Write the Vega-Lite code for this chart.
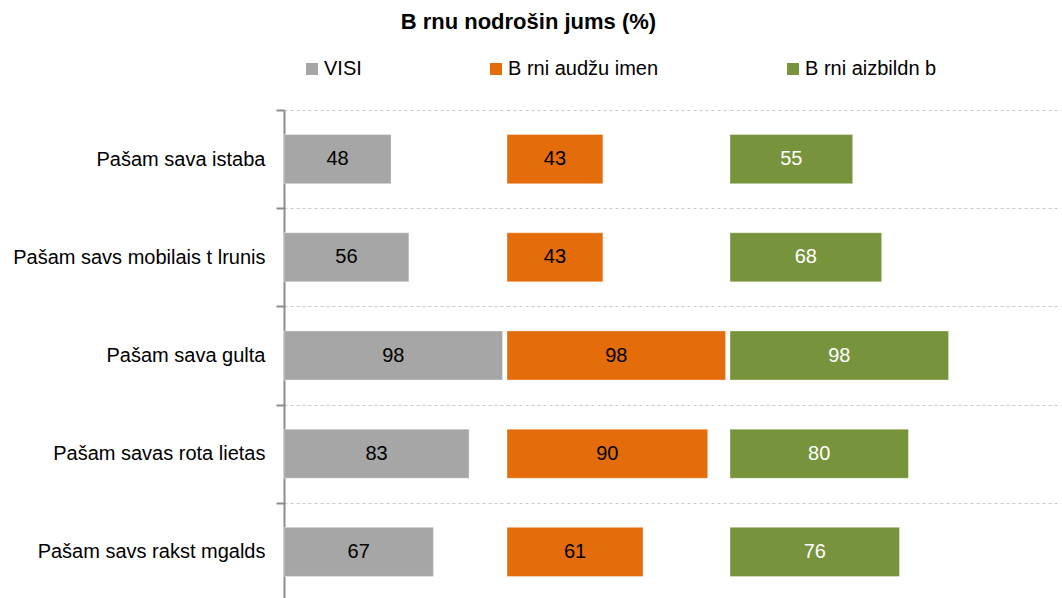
{
  "$schema": "https://vega.github.io/schema/vega-lite/v6.json",
  "background": "#ffffff",
  "padding": {"left": 12, "top": 11, "right": 0, "bottom": 0},
  "title": {"text": "B rnu nodrošin jums (%)", "fontSize": 22, "fontWeight": "bold", "font": "Liberation Sans", "color": "#000000", "anchor": "start", "dx": 388, "offset": 25},
  "data": {"values": [
    {"category": "Pašam sava istaba", "group": "VISI", "value": 48},
    {"category": "Pašam savs mobilais t lrunis", "group": "VISI", "value": 56},
    {"category": "Pašam sava gulta", "group": "VISI", "value": 98},
    {"category": "Pašam savas rota lietas", "group": "VISI", "value": 83},
    {"category": "Pašam savs rakst mgalds", "group": "VISI", "value": 67},
    {"category": "Pašam sava istaba", "group": "B rni audžu imen", "value": 43},
    {"category": "Pašam savs mobilais t lrunis", "group": "B rni audžu imen", "value": 43},
    {"category": "Pašam sava gulta", "group": "B rni audžu imen", "value": 98},
    {"category": "Pašam savas rota lietas", "group": "B rni audžu imen", "value": 90},
    {"category": "Pašam savs rakst mgalds", "group": "B rni audžu imen", "value": 61},
    {"category": "Pašam sava istaba", "group": "B rni aizbildn b", "value": 55},
    {"category": "Pašam savs mobilais t lrunis", "group": "B rni aizbildn b", "value": 68},
    {"category": "Pašam sava gulta", "group": "B rni aizbildn b", "value": 98},
    {"category": "Pašam savas rota lietas", "group": "B rni aizbildn b", "value": 80},
    {"category": "Pašam savs rakst mgalds", "group": "B rni aizbildn b", "value": 76}
  ]},
  "bounds": "flush",
  "spacing": 0,
  "hconcat": [
    {
      "width": 223, "height": 491,
      "transform": [{"filter": "datum.group === 'VISI'"}],
      "layer": [
        {
          "mark": {"type": "bar", "height": {"band": 0.5}, "stroke": "#ffffff", "strokeWidth": 1, "strokeOpacity": 0.35},
          "encoding": {
            "y": {"field": "category", "type": "nominal", "sort": ["Pašam sava istaba", "Pašam savs mobilais t lrunis", "Pašam sava gulta", "Pašam savas rota lietas", "Pašam savs rakst mgalds"], "scale": {"paddingInner": 0, "paddingOuter": 0},
              "axis": {"title": null, "labelFontSize": 20, "labelColor": "#000000", "labelFont": "Liberation Sans", "labelLimit": 400, "labelPadding": 11, "domainColor": "#8c8c8c", "domainWidth": 2, "tickColor": "#8c8c8c", "tickWidth": 2, "tickSize": 8, "tickBand": "extent", "grid": true, "gridColor": "#c8c8c8", "gridDash": [3, 3], "gridWidth": 1}},
            "x": {"field": "value", "type": "quantitative", "scale": {"domain": [0, 100], "nice": false}, "axis": null},
            "color": {"field": "group", "type": "nominal", "scale": {"domain": ["VISI", "B rni audžu imen", "B rni aizbildn b"], "range": ["#a6a6a6", "#e46c0a", "#77933c"]},
              "legend": {"title": null, "orient": "none", "direction": "horizontal", "legendX": 18, "legendY": -51, "symbolType": "square", "symbolSize": 144, "symbolStrokeWidth": 0, "labelFontSize": 20, "labelFont": "Liberation Sans", "labelColor": "#000000", "labelOffset": 2, "columnPadding": 124, "labelLimit": 400}}
          }
        },
        {
          "mark": {"type": "text", "fontSize": 20, "font": "Liberation Sans", "color": "#000000"},
          "encoding": {
            "y": {"field": "category", "type": "nominal", "sort": ["Pašam sava istaba", "Pašam savs mobilais t lrunis", "Pašam sava gulta", "Pašam savas rota lietas", "Pašam savs rakst mgalds"]},
            "x": {"field": "value", "type": "quantitative", "scale": {"domain": [0, 200], "nice": false}, "axis": null},
            "text": {"field": "value"}
          }
        }
      ],
      "resolve": {"scale": {"x": "independent"}}
    },
    {
      "width": 223, "height": 491,
      "transform": [{"filter": "datum.group === 'B rni audžu imen'"}],
      "layer": [
        {
          "mark": {"type": "bar", "height": {"band": 0.5}, "stroke": "#ffffff", "strokeWidth": 1, "strokeOpacity": 0.35},
          "encoding": {
            "y": {"field": "category", "type": "nominal", "sort": ["Pašam sava istaba", "Pašam savs mobilais t lrunis", "Pašam sava gulta", "Pašam savas rota lietas", "Pašam savs rakst mgalds"], "scale": {"paddingInner": 0, "paddingOuter": 0},
              "axis": {"title": null, "labels": false, "ticks": false, "domain": false, "minExtent": 0, "maxExtent": 0, "tickBand": "extent", "grid": true, "gridColor": "#c8c8c8", "gridDash": [3, 3], "gridWidth": 1}},
            "x": {"field": "value", "type": "quantitative", "scale": {"domain": [0, 100], "nice": false}, "axis": null},
            "color": {"field": "group", "type": "nominal"}
          }
        },
        {
          "mark": {"type": "text", "fontSize": 20, "font": "Liberation Sans", "color": "#000000"},
          "encoding": {
            "y": {"field": "category", "type": "nominal", "sort": ["Pašam sava istaba", "Pašam savs mobilais t lrunis", "Pašam sava gulta", "Pašam savas rota lietas", "Pašam savs rakst mgalds"]},
            "x": {"field": "value", "type": "quantitative", "scale": {"domain": [0, 200], "nice": false}, "axis": null},
            "text": {"field": "value"}
          }
        }
      ],
      "resolve": {"scale": {"x": "independent"}}
    },
    {
      "width": 331, "height": 491,
      "transform": [{"filter": "datum.group === 'B rni aizbildn b'"}],
      "layer": [
        {
          "mark": {"type": "bar", "height": {"band": 0.5}, "stroke": "#ffffff", "strokeWidth": 1, "strokeOpacity": 0.35},
          "encoding": {
            "y": {"field": "category", "type": "nominal", "sort": ["Pašam sava istaba", "Pašam savs mobilais t lrunis", "Pašam sava gulta", "Pašam savas rota lietas", "Pašam savs rakst mgalds"], "scale": {"paddingInner": 0, "paddingOuter": 0},
              "axis": {"title": null, "labels": false, "ticks": false, "domain": false, "minExtent": 0, "maxExtent": 0, "tickBand": "extent", "grid": true, "gridColor": "#c8c8c8", "gridDash": [3, 3], "gridWidth": 1}},
            "x": {"field": "value", "type": "quantitative", "scale": {"domain": [0, 148.4], "nice": false}, "axis": null},
            "color": {"field": "group", "type": "nominal"}
          }
        },
        {
          "mark": {"type": "text", "fontSize": 20, "font": "Liberation Sans", "color": "#ffffff"},
          "encoding": {
            "y": {"field": "category", "type": "nominal", "sort": ["Pašam sava istaba", "Pašam savs mobilais t lrunis", "Pašam sava gulta", "Pašam savas rota lietas", "Pašam savs rakst mgalds"]},
            "x": {"field": "value", "type": "quantitative", "scale": {"domain": [0, 296.8], "nice": false}, "axis": null},
            "text": {"field": "value"}
          }
        }
      ],
      "resolve": {"scale": {"x": "independent"}}
    }
  ],
  "config": {"view": {"stroke": null}, "font": "Liberation Sans"}
}
